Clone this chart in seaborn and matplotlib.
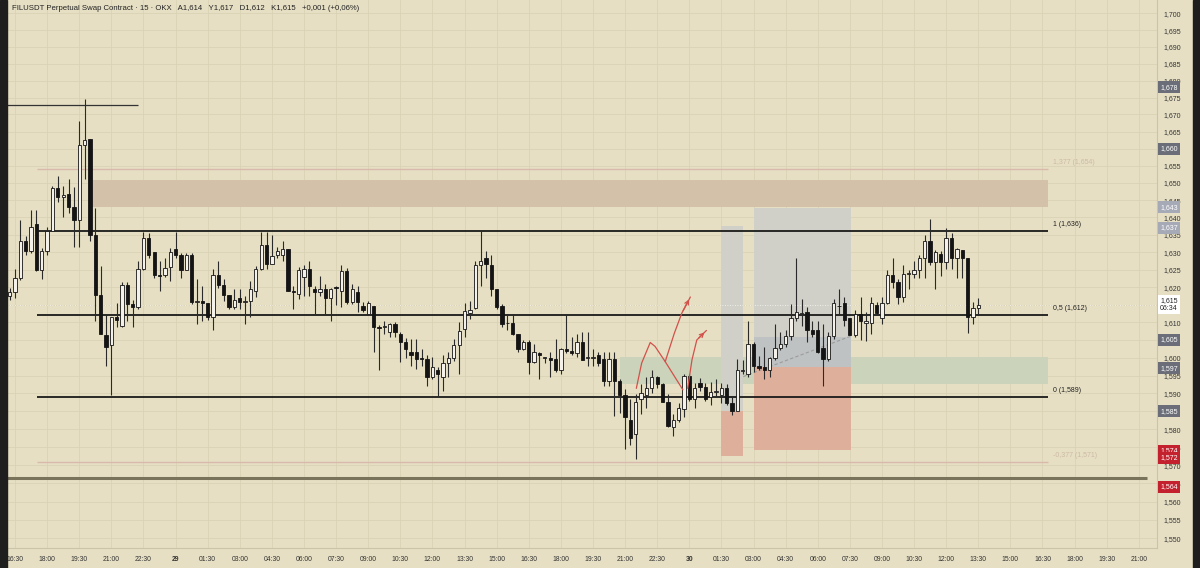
import numpy as np
import pandas as pd
import matplotlib
matplotlib.use("Agg")
import matplotlib.pyplot as plt
import seaborn as sns
from matplotlib.patches import Rectangle
from matplotlib.ticker import NullLocator, NullFormatter

# FILUSDT 15m candles, 28th 16:15 -> 30th 13:30 (index 0 = 16:15)
opens = [
    1.6175, 1.6185, 1.6225, 1.6332, 1.6304, 1.6380, 1.6249, 1.6304, 1.6361, 1.6486,
    1.6458, 1.6468, 1.6430, 1.6394, 1.6610, 1.6628, 1.6350, 1.6177, 1.6063, 1.6035,
    1.6114, 1.6090, 1.6205, 1.6152, 1.6143, 1.6252, 1.6340, 1.6300, 1.6236, 1.6236,
    1.6258, 1.6310, 1.6293, 1.6250, 1.6293, 1.6157, 1.6162, 1.6155, 1.6114, 1.6236,
    1.6205, 1.6177, 1.6143, 1.6168, 1.6157, 1.6160, 1.6190, 1.6252, 1.6320, 1.6266,
    1.6293, 1.6293, 1.6310, 1.6190, 1.6180, 1.6228, 1.6252, 1.6195, 1.6185, 1.6195,
    1.6170, 1.6199, 1.6190, 1.6245, 1.6157, 1.6185, 1.6145, 1.6125, 1.6145, 1.6086,
    1.6086, 1.6072, 1.6095, 1.6066, 1.6045, 1.6017, 1.6017, 1.6000, 1.5997, 1.5945,
    1.5965, 1.5945, 1.5986, 1.6000, 1.6037, 1.6080, 1.6127, 1.6140, 1.6264, 1.6282,
    1.6264, 1.6195, 1.6145, 1.6097, 1.6097, 1.6066, 1.6025, 1.6045, 1.5987, 1.6012,
    1.6000, 1.6000, 1.5997, 1.5966, 1.6025, 1.6020, 1.6014, 1.6045, 1.6000, 1.6000,
    1.6008, 1.5997, 1.5936, 1.5997, 1.5935, 1.5895, 1.5825, 1.5787, 1.5885, 1.5895,
    1.5915, 1.5945, 1.5925, 1.5875, 1.5805, 1.5825, 1.5855, 1.5948, 1.5885, 1.5928,
    1.5917, 1.5890, 1.5905, 1.5895, 1.5915, 1.5872, 1.5850, 1.5962, 1.5955, 1.6040,
    1.5978, 1.5973, 1.5966, 1.5998, 1.6027, 1.6040, 1.6062, 1.6112, 1.6125, 1.6128,
    1.6077, 1.6077, 1.6027, 1.5997, 1.6060, 1.6145, 1.6155, 1.6112, 1.6065, 1.6125,
    1.6098, 1.6098, 1.6148, 1.6112, 1.6155, 1.6235, 1.6215, 1.6172, 1.6238, 1.6238,
    1.6250, 1.6284, 1.6332, 1.6272, 1.6294, 1.6272, 1.6340, 1.6284, 1.6305, 1.6284,
    1.6114, 1.6140]
highs = [
    1.6199, 1.6253, 1.6394, 1.6346, 1.6421, 1.6421, 1.6312, 1.6373, 1.6492, 1.6519,
    1.6492, 1.6511, 1.6488, 1.6680, 1.6745, 1.6628, 1.6428, 1.6260, 1.6124, 1.6116,
    1.6155, 1.6215, 1.6215, 1.6163, 1.6275, 1.6359, 1.6354, 1.6300, 1.6275, 1.6284,
    1.6312, 1.6359, 1.6298, 1.6298, 1.6298, 1.6222, 1.6203, 1.6155, 1.6252, 1.6275,
    1.6222, 1.6177, 1.6194, 1.6194, 1.6175, 1.6218, 1.6260, 1.6359, 1.6359, 1.6350,
    1.6314, 1.6331, 1.6310, 1.6203, 1.6258, 1.6262, 1.6275, 1.6203, 1.6231, 1.6208,
    1.6199, 1.6203, 1.6264, 1.6255, 1.6208, 1.6203, 1.6157, 1.6162, 1.6145, 1.6093,
    1.6103, 1.6097, 1.6100, 1.6072, 1.6056, 1.6053, 1.6053, 1.6025, 1.6008, 1.6003,
    1.5975, 1.6008, 1.6017, 1.6053, 1.6100, 1.6155, 1.6162, 1.6275, 1.6360, 1.6303,
    1.6293, 1.6195, 1.6151, 1.6124, 1.6124, 1.6067, 1.6050, 1.6050, 1.6040, 1.6017,
    1.6003, 1.6017, 1.6053, 1.6028, 1.6124, 1.6059, 1.6066, 1.6072, 1.6072, 1.6025,
    1.6017, 1.6017, 1.6017, 1.6017, 1.5939, 1.5911, 1.5883, 1.5897, 1.5925, 1.5947,
    1.5966, 1.5950, 1.5928, 1.5897, 1.5842, 1.5874, 1.5955, 1.5955, 1.5928, 1.5942,
    1.5928, 1.5933, 1.5939, 1.5928, 1.5925, 1.5892, 1.5997, 1.5995, 1.6105, 1.6045,
    1.6005, 1.6031, 1.6003, 1.6095, 1.6072, 1.6077, 1.6153, 1.6284, 1.6166, 1.6143,
    1.6105, 1.6105, 1.6095, 1.6072, 1.6166, 1.6194, 1.6171, 1.6112, 1.6134, 1.6171,
    1.6129, 1.6173, 1.6157, 1.6173, 1.6248, 1.6284, 1.6222, 1.6262, 1.6248, 1.6275,
    1.6293, 1.6350, 1.6395, 1.6307, 1.6303, 1.6370, 1.6354, 1.6312, 1.6307, 1.6284,
    1.6157, 1.6170]
lows = [
    1.6163, 1.6168, 1.6220, 1.6293, 1.6298, 1.6245, 1.6222, 1.6293, 1.6360, 1.6444,
    1.6400, 1.6414, 1.6314, 1.6314, 1.6511, 1.6333, 1.6105, 1.6067, 1.5976, 1.5895,
    1.6086, 1.6086, 1.6105, 1.6086, 1.6139, 1.6248, 1.6284, 1.6227, 1.6188, 1.6229,
    1.6218, 1.6284, 1.6227, 1.6248, 1.6153, 1.6095, 1.6105, 1.6107, 1.6077, 1.6199,
    1.6162, 1.6139, 1.6139, 1.6139, 1.6095, 1.6114, 1.6173, 1.6248, 1.6252, 1.6265,
    1.6284, 1.6275, 1.6190, 1.6139, 1.6166, 1.6176, 1.6176, 1.6124, 1.6176, 1.6124,
    1.6105, 1.6148, 1.6143, 1.6153, 1.6153, 1.6129, 1.6129, 1.6120, 1.6017, 1.5966,
    1.6067, 1.6058, 1.6058, 1.5987, 1.6000, 1.5978, 1.5969, 1.5978, 1.5920, 1.5939,
    1.5892, 1.5906, 1.5947, 1.5992, 1.5955, 1.6059, 1.6110, 1.6139, 1.6203, 1.6227,
    1.6176, 1.6139, 1.6088, 1.6077, 1.6064, 1.6017, 1.6022, 1.5955, 1.5985, 1.5939,
    1.5985, 1.5947, 1.5961, 1.5955, 1.6014, 1.6008, 1.6003, 1.5994, 1.5978, 1.5978,
    1.5978, 1.5920, 1.5920, 1.5837, 1.5846, 1.5746, 1.5755, 1.5718, 1.5842, 1.5860,
    1.5901, 1.5915, 1.5875, 1.5807, 1.5782, 1.5820, 1.5834, 1.5880, 1.5860, 1.5906,
    1.5880, 1.5868, 1.5892, 1.5874, 1.5868, 1.5839, 1.5855, 1.5953, 1.5947, 1.5961,
    1.5966, 1.5939, 1.5947, 1.5994, 1.6022, 1.6031, 1.6050, 1.6103, 1.6091, 1.6045,
    1.6059, 1.6014, 1.5920, 1.5990, 1.6053, 1.6124, 1.6091, 1.6064, 1.6059, 1.6050,
    1.6048, 1.6067, 1.6120, 1.6095, 1.6153, 1.6199, 1.6153, 1.6157, 1.6194, 1.6227,
    1.6225, 1.6227, 1.6264, 1.6194, 1.6233, 1.6253, 1.6253, 1.6225, 1.6225, 1.6070,
    1.6095, 1.6120]
closes = [
    1.6185, 1.6225, 1.6332, 1.6304, 1.6372, 1.6249, 1.6304, 1.6361, 1.6486, 1.6458,
    1.6465, 1.6430, 1.6394, 1.6610, 1.6625, 1.6350, 1.6177, 1.6067, 1.6029, 1.6114,
    1.6106, 1.6205, 1.6152, 1.6143, 1.6252, 1.6340, 1.6293, 1.6236, 1.6233, 1.6255,
    1.6300, 1.6293, 1.6250, 1.6293, 1.6157, 1.6160, 1.6155, 1.6114, 1.6236, 1.6205,
    1.6177, 1.6143, 1.6163, 1.6157, 1.6160, 1.6195, 1.6252, 1.6320, 1.6266, 1.6290,
    1.6303, 1.6310, 1.6190, 1.6185, 1.6250, 1.6252, 1.6203, 1.6185, 1.6195, 1.6170,
    1.6194, 1.6197, 1.6245, 1.6157, 1.6195, 1.6157, 1.6135, 1.6155, 1.6086, 1.6084,
    1.6088, 1.6095, 1.6072, 1.6045, 1.6025, 1.6008, 1.5997, 1.5997, 1.5945, 1.5975,
    1.5955, 1.5986, 1.6000, 1.6037, 1.6075, 1.6132, 1.6135, 1.6264, 1.6275, 1.6265,
    1.6195, 1.6143, 1.6095, 1.6097, 1.6066, 1.6025, 1.6045, 1.5987, 1.6017, 1.6007,
    1.6000, 1.5995, 1.5966, 1.6025, 1.6020, 1.6014, 1.6045, 1.5995, 1.6000, 1.6002,
    1.5985, 1.5936, 1.5997, 1.5936, 1.5895, 1.5835, 1.5775, 1.5875, 1.5902, 1.5915,
    1.5945, 1.5925, 1.5875, 1.5809, 1.5825, 1.5860, 1.5948, 1.5885, 1.5915, 1.5918,
    1.5885, 1.5905, 1.5905, 1.5915, 1.5872, 1.5850, 1.5966, 1.5964, 1.6040, 1.5978,
    1.5970, 1.5966, 1.5998, 1.6027, 1.6040, 1.6062, 1.6112, 1.6128, 1.6127, 1.6077,
    1.6068, 1.6017, 1.5997, 1.6060, 1.6155, 1.6147, 1.6107, 1.6065, 1.6125, 1.6103,
    1.6103, 1.6155, 1.6127, 1.6155, 1.6235, 1.6215, 1.6172, 1.6238, 1.6240, 1.6250,
    1.6284, 1.6332, 1.6272, 1.6302, 1.6272, 1.6340, 1.6284, 1.6308, 1.6284, 1.6114,
    1.6140, 1.6150]

xtick_labels = ["16:30", "18:00", "19:30", "21:00", "22:30", "29", "01:30", "03:00",
                "04:30", "06:00", "07:30", "09:00", "10:30", "12:00", "13:30", "15:00",
                "16:30", "18:00", "19:30", "21:00", "22:30", "30", "01:30", "03:00",
                "04:30", "06:00", "07:30", "09:00", "10:30", "12:00", "13:30", "15:00",
                "16:30", "18:00", "19:30", "21:00"]

# fib levels drawn on the chart
fib_levels = [1.654, 1.636, 1.612, 1.589, 1.571]
fib_labels = ["1,377 (1,654)", "1 (1,636)", "0,5 (1,612)", "0 (1,589)", "-0,377 (1,571)"]
fib_strong = [False, True, True, True, False]

# zones (price ranges)
supply_zone = (1.6431, 1.6508)
demand_zone = (1.5926, 1.6003)
# long positions: target, entry, stop, open-pnl level
pos_small = (1.6375, 1.5850, 1.5727, 1.5850)
pos_big = (1.6428, 1.5973, 1.5742, 1.6058)

top_line = 1.6728
bottom_line = 1.5665
last_price = 1.615

# price tags on the right axis
tag_values = [1.678, 1.660, 1.643, 1.637, 1.605, 1.597, 1.585, 1.574, 1.572, 1.564]
tag_colors = ["#6B6E78", "#6B6E78", "#A6AAB6", "#A6AAB6", "#6B6E78", "#6B6E78",
              "#6B6E78", "#C4212E", "#C4212E", "#C4212E"]

# hand drawn red arrows (candle index, price)
arrow1_x = [117.1, 118.1, 119.7, 120.6, 122.5, 125.8]
arrow1_y = [1.5914, 1.5985, 1.6043, 1.6032, 1.5989, 1.5910]
arrow2_x = [122.5, 124.2, 125.6, 127.2]
arrow2_y = [1.5989, 1.6069, 1.6126, 1.6172]
arrow3_x = [126.7, 127.5, 128.4, 130.2]
arrow3_y = [1.5914, 1.5994, 1.6050, 1.6077]

BG = "#E6DFC4"
GRID = "#D9D2B4"

df = pd.DataFrame({"open": opens, "high": highs, "low": lows, "close": closes})
df["idx"] = np.arange(len(df))
df["up"] = df["close"] >= df["open"]

sns.set_theme(style="white", rc={"axes.facecolor": BG, "figure.facecolor": BG})
plt.rcParams["font.family"] = ["Liberation Sans", "DejaVu Sans"]

fig = plt.figure(figsize=(12, 5.68), dpi=100)
ax = fig.add_axes([7 / 1200, 20 / 568, 1150 / 1200, 548 / 568])
ax.set_facecolor(BG)
ax.set_yscale("log")
ax.set_ylim(1.5473, 1.7040)
ax.set_xlim(-0.5, 214.4)

# grid + ticks (labels hidden where a price tag sits right on top of them)
yticks = np.round(np.arange(1.550, 1.7001, 0.005), 3)
covered = {1.660, 1.615, 1.605, 1.585}
ax.set_yticks(yticks)
ax.set_yticklabels(["" if v in covered else f"{v:.3f}".replace(".", ",") for v in yticks])
ax.yaxis.set_minor_locator(NullLocator())
ax.yaxis.set_minor_formatter(NullFormatter())
ax.yaxis.tick_right()
xtick_pos = np.arange(1, 1 + 6 * len(xtick_labels), 6)
ax.set_xticks(xtick_pos)
ax.set_xticklabels(xtick_labels)
for lab in ax.get_xticklabels():
    if lab.get_text() in ("29", "30"):
        lab.set_fontweight("bold")
ax.tick_params(axis="y", length=0, pad=4.5, labelsize=5, labelcolor="#333333")
ax.tick_params(axis="x", length=0, pad=6, labelsize=4.9, labelcolor="#333333")
ax.grid(True, color=GRID, lw=0.6)
ax.set_axisbelow(True)
for s in ["top", "left"]:
    ax.spines[s].set_visible(False)
for s in ["right", "bottom"]:
    ax.spines[s].set_color("#CBC4A8")
    ax.spines[s].set_linewidth(0.8)

# zones
ax.fill_between([15.0, 194.1], supply_zone[0], supply_zone[1], color="#D4C1A9", lw=0, zorder=1)
ax.fill_between([114.0, 194.1], demand_zone[0], demand_zone[1], color="#CBD3BA", lw=0, zorder=1)

for (x0, x1), (tp, entry, sl, pnl) in [((132.96, 137.07), pos_small), ((139.1, 157.2), pos_big)]:
    ax.fill_between([x0, x1], entry, tp, color="#D0D0C8", lw=0, zorder=1.2)
    ax.fill_between([x0, x1], sl, entry, color="#DEB09C", lw=0, zorder=1.2)
    if pnl > entry:
        ax.fill_between([x0, x1], entry, pnl, color="#BFC2C2", lw=0, zorder=1.3)

# fib lines + labels
for lvl, lab, strong in zip(fib_levels, fib_labels, fib_strong):
    ax.hlines(lvl, 5.1, 194.1, color="#1A1A1A" if strong else "#D9B9AB",
              lw=1.3 if strong else 1.0, zorder=2)
    ax.annotate(lab, xy=(195.0, lvl), xytext=(0, 2.2), textcoords="offset points",
                fontsize=5, va="bottom", ha="left",
                color="#222222" if strong else "#CDB9A6")

ax.hlines(top_line, -0.5, 24, color="#333333", lw=0.9, zorder=2)
ax.hlines(bottom_line, -0.5, 212.6, color="#78735A", lw=2.2, zorder=2)
ax.axhline(last_price, color="white", ls=(0, (1, 2)), lw=0.6, alpha=0.9, zorder=1.5)

# dashed trade path inside the long position
ax.plot([137.1, 157.2], [1.5947, 1.6061], color="#9C9C9C", ls=(0, (3, 2)), lw=0.8, zorder=2.5)

# candles
ax.vlines(df["idx"], df["low"], df["high"], color="#2A2A2A", lw=0.8, zorder=3)
body_lo = np.minimum(df["open"], df["close"])
body_h = np.maximum(np.abs(df["close"] - df["open"]), 0.00025)
ax.bar(df["idx"], body_h, bottom=body_lo, width=0.62,
       color=np.where(df["up"], "#F3F1EA", "#141414"),
       edgecolor="#141414", lw=0.6, zorder=4)

# red hand drawn arrows
red = "#D2514A"
for xs, ys in [(arrow1_x, arrow1_y), (arrow2_x, arrow2_y), (arrow3_x, arrow3_y)]:
    sns.lineplot(x=xs, y=ys, sort=False, estimator=None, color=red, lw=0.9, ax=ax, zorder=5)
for xs, ys in [(arrow2_x, arrow2_y), (arrow3_x, arrow3_y)]:
    ax.annotate("", xy=(xs[-1], ys[-1]), xytext=(xs[-2], ys[-2]),
                arrowprops=dict(arrowstyle="->", color=red, lw=0.9,
                                mutation_scale=7), zorder=5)

# right axis tags
ytr = ax.get_yaxis_transform()
for v, c in zip(tag_values, tag_colors):
    ax.text(1.0 + 3 / 1150, v, f"{v:.3f}".replace(".", ","), transform=ytr,
            fontsize=5, color="white", va="center", ha="left", clip_on=False, zorder=10,
            bbox=dict(boxstyle="square,pad=0.35", fc=c, ec="none"))
ax.text(1.0 + 3 / 1150, last_price, "1,615\n06:34", transform=ytr, fontsize=5,
        color="#222222", va="center", ha="left", clip_on=False, zorder=10,
        linespacing=1.1, bbox=dict(boxstyle="square,pad=0.3", fc="white", ec="none"))

# title
fig.text(12 / 1200, 1 - 9 / 568,
         "FILUSDT Perpetual Swap Contract · 15 · OKX   A1,614   Y1,617   D1,612   K1,615   +0,001 (+0,06%)",
         fontsize=5.6, va="center", ha="left", color="#222222")

# dark frame edges
fig.patches.append(Rectangle((0, 0), 7 / 1200, 1, transform=fig.transFigure, color="#1E1E1E", zorder=20))
fig.patches.append(Rectangle((1193 / 1200, 0), 7 / 1200, 1, transform=fig.transFigure, color="#1E1E1E", zorder=20))

fig.savefig("out.png", dpi=100, facecolor=BG)
